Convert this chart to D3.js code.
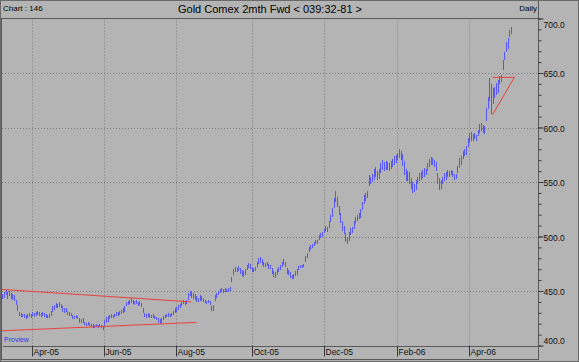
<!DOCTYPE html>
<html>
<head>
<meta charset="utf-8">
<script src="https://cdn.jsdelivr.net/npm/d3@7"></script>
<style>
  body { margin: 0; background: #b4b4b4; }
  svg { display: block; font-family: "Liberation Sans", Arial, sans-serif; }
</style>
</head>
<body>
<div class="chart"></div>
<script>
// Daily high / low, one bar per weekday starting at firstDay
var firstDay = "2005-03-08";
var highs = [
  447,449,451,449,
  450,448,447,446,442, 437,431,430,429,429, 428,429,430,429,431, 430,431,432,431,430,
  431,430,429,428,429, 432,436,437,439,438, 440,438,436,434,434, 432,431,430,428,427,
  428,427,425,424,425, 422,421,422,421,420, 420,419,420,419,420, 419,418,423,426,427,
  428,429,428,429,431, 431,432,433,434,436, 440,441,442,444,442, 441,442,440,441,439,
  434,430,429,430,429, 428,429,427,426,425, 424,425,427,428,429, 430,429,430,432,434,
  435,437,438,440,442, 441,442,448,450,449, 448,447,445,444,446, 445,444,442,441,442,
  441,436,437,446,448, 450,452,453,452,453, 452,453,454,463,470, 472,471,473,471,469,
  468,470,474,476,475, 472,471,472,477,480, 481,479,477,476,477, 475,474,471,468,467,
  470,472,474,477,479, 477,471,469,467,465, 466,468,470,473,474, 474,475,482,485,490,
  492,493,495,497,497, 501,503,504,507,510, 509,514,520,526,535, 542,536,528,522,514,
  510,503,499,504,508, 509,514,518,520,522, 525,532,538,540,542, 556,555,557,562,564,
  560,562,567,570,568, 569,568,567,569,571, 574,575,577,580,578, 576,569,562,560,559,
  554,550,548,552,555, 558,559,561,563,562, 567,571,573,572,570, 568,558,554,552,555,
  558,559,561,560,561, 560,557,557,565,572, 574,578,580,583,590, 595,596,594,595,593,
  598,603,604,602,601, 618,628,645,640,636, 637,641,644,647,648, 662,669,678,682,689,
  692
];
var lows = [
  443,444,446,443,
  445,443,442,441,437, 432,427,426,426,425, 424,425,426,425,427, 426,427,428,427,426,
  427,426,425,425,425, 427,431,433,434,434, 435,434,431,430,431, 428,427,427,424,424,
  425,424,421,421,421, 419,418,419,418,417, 416,416,417,416,417, 416,414,418,421,422,
  424,425,425,426,427, 427,428,429,430,431, 436,437,438,439,438, 437,438,436,437,435,
  430,426,425,426,425, 425,425,424,423,421, 420,421,423,425,426, 426,426,427,428,430,
  431,433,434,436,438, 437,438,442,445,444, 443,442,440,440,441, 441,440,439,438,439,
  437,432,432,441,444, 446,448,449,448,449, 449,449,450,458,465, 467,467,468,466,464,
  463,465,469,471,470, 467,467,468,472,475, 476,474,472,472,473, 470,470,466,463,462,
  465,467,469,472,474, 472,466,465,462,461, 461,464,465,469,471, 471,472,477,480,486,
  488,489,491,493,493, 497,499,500,503,505, 504,508,513,518,526, 532,527,520,512,505,
  502,495,493,496,501, 503,507,512,514,516, 517,524,530,533,535, 546,548,550,552,555,
  552,553,558,561,560, 561,561,560,562,564, 566,567,570,572,570, 565,556,551,551,548,
  544,540,541,543,548, 551,552,554,555,556, 560,564,566,566,564, 560,548,543,544,548,
  551,552,555,555,556, 555,552,553,558,563, 566,571,574,575,582, 586,588,588,589,588,
  592,595,597,595,594, 606,617,624,612,622, 627,630,632,640,642, 653,662,669,672,683,
  686
];

var yTicks = [400, 450, 500, 550, 600, 650, 700];
var monthLabels = ["Apr-05", "Jun-05", "Aug-05", "Oct-05", "Dec-05", "Feb-06", "Apr-06"];
var monthDates = ["2005-04-01", "2005-06-01", "2005-08-01", "2005-10-01", "2005-12-01", "2006-02-01", "2006-04-01"];

// drawn trend lines (date, price)
var upperTrend = [["2005-03-07", 451.5], ["2005-08-12", 440.0]];
var lowerTrend = [["2005-03-07", 413.4], ["2005-08-17", 421.2]];
var triangle = [["2006-04-21", 646], ["2006-05-10", 646], ["2006-04-21", 612]];

var svgWidth = 579;
var svgHeight = 362;
var plot = { left: 2, right: 538, top: 18.5, bottom: 345.5 };

var parse = d3.timeParse("%Y-%m-%d");
var origin = parse("2005-03-07");

// count weekdays from origin, the chart's x axis skips weekends
function weekdayIndex(str) {
  return d3.timeDay.range(origin, parse(str))
    .filter(function(t) { var w = t.getDay(); return w != 0 && w != 6; }).length;
}

var svg = d3.select(".chart")
  .append("svg")
  .attr("width", svgWidth)
  .attr("height", svgHeight);

svg.append("rect")
  .attr("width", svgWidth)
  .attr("height", svgHeight)
  .attr("fill", "#b4b4b4");

var xScale = d3.scaleLinear()
  .domain([0.9, 321.1])
  .range([plot.left, plot.right]);

var yScale = d3.scaleLinear()
  .domain([400, 700])
  .range([plot.bottom, plot.top]);

svg.append("clipPath").attr("id", "plotclip")
  .append("rect")
  .attr("x", plot.left).attr("y", plot.top)
  .attr("width", plot.right - plot.left).attr("height", plot.bottom - plot.top);

// grid
var monthIdx = monthDates.map(weekdayIndex);

svg.append("g").selectAll("line")
  .data(yTicks.slice(1, -1))
  .enter().append("line")
  .attr("x1", plot.left).attr("x2", plot.right)
  .attr("y1", d => Math.round(yScale(d)) + 0.5)
  .attr("y2", d => Math.round(yScale(d)) + 0.5)
  .attr("stroke", "#7c7c7c")
  .attr("stroke-dasharray", "1,2");

svg.append("g").selectAll("line")
  .data(monthIdx)
  .enter().append("line")
  .attr("x1", d => Math.round(xScale(d)) + 0.5)
  .attr("x2", d => Math.round(xScale(d)) + 0.5)
  .attr("y1", plot.top).attr("y2", plot.bottom)
  .attr("stroke", "#7c7c7c")
  .attr("stroke-dasharray", "1,2");

// bars
var startIdx = weekdayIndex(firstDay);
var chartGroup = svg.append("g").attr("clip-path", "url(#plotclip)");

chartGroup.selectAll(".bar")
  .data(highs)
  .enter().append("line")
  .attr("class", "bar")
  .attr("x1", (d, i) => Math.round(xScale(startIdx + i)) + 0.5)
  .attr("x2", (d, i) => Math.round(xScale(startIdx + i)) + 0.5)
  .attr("y1", d => yScale(d))
  .attr("y2", (d, i) => yScale(lows[i]))
  .attr("stroke", "#5656f2")
  .attr("stroke-width", 1)
  .attr("shape-rendering", "crispEdges");

// trend lines
var trendLine = d3.line()
  .x(d => xScale(weekdayIndex(d[0])))
  .y(d => yScale(d[1]));

[upperTrend, lowerTrend, triangle].forEach(function(t) {
  chartGroup.append("path")
    .attr("d", trendLine(t))
    .attr("fill", "none")
    .attr("stroke", "#e8423e")
    .attr("stroke-width", 1);
});

chartGroup.append("text")
  .attr("x", 4)
  .attr("y", 342)
  .attr("font-size", "7px")
  .attr("fill", "#3434ec")
  .text("Proview");

// frame lines
var frame = svg.append("g").attr("stroke", "#5a5a5a").attr("shape-rendering", "crispEdges");
frame.append("line").attr("x1", 0).attr("x2", plot.right).attr("y1", 18.5).attr("y2", 18.5);
frame.append("line").attr("x1", 0).attr("x2", plot.right).attr("y1", 359.5).attr("y2", 359.5);
frame.append("line").attr("x1", 1.5).attr("x2", 1.5).attr("y1", 18.5).attr("y2", 359.5);
frame.append("line").attr("x1", 538.5).attr("x2", 538.5).attr("y1", 0).attr("y2", 360);
svg.append("rect")
  .attr("x", 0.5).attr("y", 0.5)
  .attr("width", svgWidth - 1).attr("height", svgHeight - 1)
  .attr("fill", "none")
  .attr("stroke", "#6a6a6a");

// y axis on the right
var minorAxis = d3.axisRight(yScale)
  .tickValues(d3.range(400, 701, 10))
  .tickSize(3)
  .tickSizeOuter(0)
  .tickFormat("");

svg.append("g")
  .attr("transform", "translate(538.5,0)")
  .call(minorAxis)
  .call(g => g.select(".domain").remove())
  .selectAll("line").attr("stroke", "#3a3a3a");

var yAxis = d3.axisRight(yScale)
  .tickValues(yTicks)
  .tickSize(5)
  .tickSizeOuter(0)
  .tickFormat(d3.format(".1f"));

var yAxisG = svg.append("g")
  .attr("transform", "translate(538.5,0)")
  .call(yAxis);

yAxisG.select(".domain").remove();
yAxisG.selectAll("line").attr("stroke", "#3a3a3a");
yAxisG.selectAll("text")
  .attr("x", 5)
  .attr("font-family", "'Liberation Sans', Arial, sans-serif")
  .attr("font-size", "8.5px")
  .attr("fill", "#111")
  .attr("dy", d => d == 700 ? "1em" : d == 400 ? "-0.2em" : "0.45em");
yAxisG.attr("font-size", null).attr("font-family", null);

// x axis
var xAxis = d3.axisBottom(xScale)
  .tickValues(monthIdx)
  .tickSize(11)
  .tickSizeOuter(0)
  .tickFormat((d, i) => monthLabels[i]);

var xAxisG = svg.append("g")
  .attr("transform", `translate(0, ${plot.bottom})`)
  .call(xAxis);

xAxisG.select(".domain").attr("stroke", "#5a5a5a").attr("shape-rendering", "crispEdges");
xAxisG.selectAll(".tick")
  .attr("transform", d => `translate(${Math.round(xScale(d)) + 0.5},0)`);
xAxisG.selectAll("line").attr("stroke", "#3a3a3a");
xAxisG.selectAll("text")
  .attr("text-anchor", "start")
  .attr("x", 1)
  .attr("y", 3)
  .attr("font-family", "'Liberation Sans', Arial, sans-serif")
  .attr("font-size", "8.5px")
  .attr("fill", "#111");

// header
svg.append("text")
  .attr("x", 3).attr("y", 11)
  .attr("font-size", "8px")
  .text("Chart : 146");

svg.append("text")
  .attr("x", 270).attr("y", 12.5)
  .attr("text-anchor", "middle")
  .attr("font-size", "11px")
  .text("Gold Comex 2mth Fwd < 039:32-81 >");

svg.append("text")
  .attr("x", 537).attr("y", 11)
  .attr("text-anchor", "end")
  .attr("font-size", "8px")
  .text("Daily");
</script>
</body>
</html>
